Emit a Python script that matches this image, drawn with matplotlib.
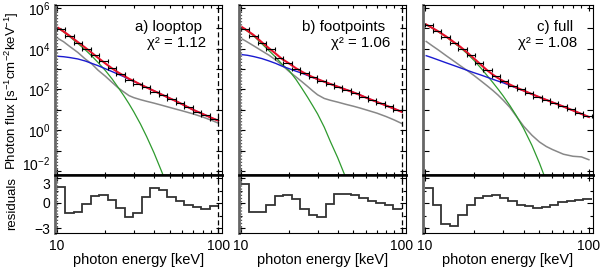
import numpy as np
import matplotlib
matplotlib.use("Agg")
import matplotlib.pyplot as plt
from matplotlib.ticker import FixedLocator, NullFormatter

plt.rcParams["font.family"] = ["Liberation Sans", "DejaVu Sans"]
plt.rcParams["mathtext.fontset"] = "custom"
plt.rcParams["mathtext.rm"] = "Liberation Sans"
plt.rcParams["mathtext.it"] = "Liberation Sans:italic"
plt.rcParams["axes.unicode_minus"] = True

# energy bins of the count spectra (keV)
edges_ab = [10.0, 11.29, 12.74, 14.38, 16.24, 18.33, 20.69, 23.36, 26.37, 29.76,
            33.60, 37.93, 42.81, 48.33, 54.56, 61.58, 69.52, 78.48, 88.59, 100.0]
edges_c = [10.0, 11.24, 12.64, 14.21, 15.98, 17.97, 20.20, 22.71, 25.54, 28.71, 32.28,
           36.30, 40.81, 45.89, 51.59, 58.01, 65.22, 73.33, 82.45, 92.71, 104.2]

# measured photon flux, log10 values
flux_a = [4.99, 4.63, 4.30, 4.01, 3.68, 3.40, 3.04, 2.75, 2.47, 2.26,
          2.10, 1.88, 1.72, 1.52, 1.33, 1.12, 0.90, 0.74, 0.54]
flux_b = [4.99, 4.63, 4.30, 3.98, 3.57, 3.32, 3.03, 2.80, 2.59, 2.42,
          2.26, 2.13, 1.98, 1.82, 1.65, 1.49, 1.33, 1.17, 0.97]
flux_c = [5.16, 4.87, 4.56, 4.28, 4.01, 3.70, 3.32, 2.96, 2.65, 2.41,
          2.19, 2.00, 1.82, 1.64, 1.48, 1.33, 1.18, 1.02, 0.85, 0.70]

# normalised residuals
resid_a = [1.9, -1.16, -1.04, -0.08, 0.84, 0.92, 0.32, -0.6, -1.64, -1.24,
           0.72, 1.8, 1.52, 0.72, 0.24, -0.2, -0.48, -0.68, -0.4]
resid_b = [2.32, -1.08, -1.08, -0.2, 0.84, 1.0, 0.44, -0.76, -1.4, -1.68,
           -0.08, 1.12, 1.12, 0.92, 0.6, 0.2, 0.0, -0.28, -0.68]
resid_c = [1.8, -0.28, -2.48, -2.76, -1.4, -0.28, 0.6, 0.84, 0.92, 0.6,
           0.2, -0.2, -0.36, -0.6, -0.48, -0.2, 0.12, 0.28, 0.4, 0.52]

# model components (log10 flux) on a common energy grid
e_model = [10.2, 11, 12, 13.5, 15, 16.5, 18, 20, 22, 24, 26, 28, 30, 33, 36,
           40, 45, 50, 55, 60, 70, 80, 90, 100]
nan = np.nan
thermal_a = [5.01, 4.83, 4.60, 4.26, 3.95, 3.64, 3.33, 2.93, 2.52, 2.10, 1.70, 1.30,
             0.90, 0.30, -0.31, -1.11, -2.10, -3.1, nan, nan, nan, nan, nan, nan]
nonth_a = [3.63, 3.61, 3.57, 3.50, 3.40, 3.28, 3.17, 3.02, 2.88, 2.75, 2.63, 2.50,
           2.40, 2.24, 2.10, 1.93, 1.74, 1.57, 1.42, 1.27, 1.00, 0.80, 0.62, 0.47]
other_a = [4.50, 4.35, 4.12, 3.82, 3.50, 3.25, 2.95, 2.65, 2.35, 2.08, 1.88, 1.70,
           1.60, 1.50, 1.42, 1.33, 1.22, 1.12, 1.03, 0.95, 0.80, 0.65, 0.50, 0.35]

thermal_b = [5.04, 4.86, 4.64, 4.25, 3.90, 3.58, 3.25, 2.92, 2.50, 2.05, 1.62, 1.20,
             0.80, 0.15, -0.55, -1.35, -2.35, nan, nan, nan, nan, nan, nan, nan]
nonth_b = [3.71, 3.68, 3.62, 3.52, 3.40, 3.28, 3.15, 3.02, 2.90, 2.80, 2.69, 2.59,
           2.50, 2.38, 2.27, 2.14, 1.99, 1.86, 1.73, 1.60, 1.39, 1.21, 1.05, 0.90]
other_b = [4.48, 4.33, 4.15, 3.90, 3.68, 3.45, 3.20, 2.88, 2.62, 2.38, 2.15, 1.93,
           1.74, 1.56, 1.47, 1.38, 1.27, 1.18, 1.09, 1.00, 0.84, 0.67, 0.50, 0.33]

thermal_c = [5.18, 5.03, 4.85, 4.58, 4.30, 4.05, 3.78, 3.42, 3.05, 2.68, 2.34, 2.01,
             1.69, 1.21, 0.73, 0.09, -0.75, -1.62, -2.5, nan, nan, nan, nan, nan]
nonth_c = [3.66, 3.57, 3.46, 3.31, 3.18, 3.06, 2.95, 2.82, 2.71, 2.60, 2.50, 2.41,
           2.33, 2.20, 2.08, 1.94, 1.77, 1.62, 1.49, 1.37, 1.16, 0.97, 0.80, 0.65]
other_c = [4.36, 4.17, 3.96, 3.66, 3.40, 3.16, 2.95, 2.68, 2.42, 2.18, 1.95, 1.72,
           1.48, 1.12, 0.70, 0.20, -0.25, -0.58, -0.80, -0.95, -1.18, -1.28, -1.31, -1.45]

labels = ["a) looptop", "b) footpoints", "c) full"]
chi2 = ["1.12", "1.06", "1.08"]

panels = [
    (edges_ab, flux_a, resid_a, thermal_a, nonth_a, other_a, True),
    (edges_ab, flux_b, resid_b, thermal_b, nonth_b, other_b, True),
    (edges_c, flux_c, resid_c, thermal_c, nonth_c, other_c, False),
]

fig = plt.figure(figsize=(6, 2.67), dpi=100)

lefts = [55, 239, 423]
widths = [167, 166.5, 169.7]
W, H = 600.0, 267.0

for i, (edges, flux, resid, th, nt, ot, fitlines) in enumerate(panels):
    x0 = lefts[i] / W
    w = widths[i] / W
    ax = fig.add_axes([x0, 1 - 175 / H, w, 170 / H])
    axr = fig.add_axes([x0, 1 - 233 / H, w, 58 / H])

    edges = np.array(edges)
    centers = np.sqrt(edges[:-1] * edges[1:])
    xlo = centers - edges[:-1]
    xhi = edges[1:] - centers

    em = np.array(e_model)
    g = 10 ** np.array(th)
    b = 10 ** np.array(nt)
    tot = np.nan_to_num(g) + b

    ax.plot(em, 10 ** np.array(ot), color="#888888", lw=1.1)
    ax.plot(em, g, color="#2e9a2e", lw=0.9)
    ax.plot(em, b, color="#1a1ad0", lw=1.0)
    ax.plot(em, tot, color="#e8102a", lw=1.5)
    ax.errorbar(centers, 10 ** np.array(flux), xerr=[xlo, xhi], fmt="none",
                ecolor="black", elinewidth=0.8, capsize=1.4, capthick=0.8)

    axr.stairs(resid, edges, baseline=None, color="#333333", lw=1.3)

    for a in (ax, axr):
        a.set_xscale("log")
        a.set_xlim(9.75, 105.5)
        a.tick_params(which="both", direction="in", top=True, right=True,
                      labelsize=10, width=0.8)
        a.tick_params(which="major", length=4.5)
        a.tick_params(which="minor", length=2.5)
        a.xaxis.set_major_locator(FixedLocator([10, 100]))
        a.xaxis.set_minor_locator(FixedLocator([20, 30, 40, 50, 60, 70, 80, 90]))
        a.xaxis.set_minor_formatter(NullFormatter())
        for s in a.spines.values():
            s.set_linewidth(0.8)
        a.spines["left"].set_color("#666666")
        a.spines["left"].set_linewidth(2.0)
        if fitlines:
            a.axvline(10.0, color="#555555", ls=(0, (1, 1.5)), lw=0.9)
            a.axvline(100.0, color="black", ls=(0, (4, 2.5)), lw=0.9)

    ax.spines["bottom"].set_linewidth(1.8)
    axr.spines["top"].set_linewidth(1.8)

    ax.set_yscale("log")
    ax.set_ylim(10 ** -2.2, 10 ** 6.15)
    dec = [10.0 ** k for k in range(-2, 7)]
    ax.yaxis.set_major_locator(FixedLocator(dec))
    ax.yaxis.set_minor_locator(FixedLocator([]))
    ax.set_xticklabels([])
    if i == 0:
        flabs = ax.set_yticklabels([r"$10^{%d}$" % k if k % 2 == 0 else ""
                                    for k in range(-2, 7)])
        flabs[0].set_va("baseline")
    else:
        ax.set_yticklabels([])

    axr.set_ylim(-3.6, 3.36)
    axr.yaxis.set_major_locator(FixedLocator([-3, 0, 3]))
    axr.yaxis.set_minor_locator(FixedLocator([-1.5, 1.5]))
    axr.set_xticklabels(["10", "100"])
    axr.tick_params(axis="x", pad=4)
    if i == 0:
        ylabs = axr.set_yticklabels(["\u22123", "0", "3"])
        ylabs[2].set_va("top")
    else:
        axr.set_yticklabels([])
    axr.set_xlabel("photon energy [keV]", fontsize=10.5, labelpad=0)

    ax.text(1 - 20 / widths[i], 1 - 22 / 170, labels[i], transform=ax.transAxes,
            ha="right", va="center", fontsize=10.8)
    ax.text(1 - 15.5 / widths[i], 1 - 38 / 170, "χ² = " + chi2[i], transform=ax.transAxes,
            ha="right", va="center", fontsize=10.8)

fig.text(12 / W, 1 - 91 / H, r"Photon flux [s$^{-1}$cm$^{-2}$keV$^{-1}$]",
         rotation=90, ha="center", va="center", fontsize=9.5)
fig.text(12 / W, 1 - 204 / H, "residuals", rotation=90, ha="center", va="center",
         fontsize=9.5)

fig.savefig("out.png", dpi=100)
